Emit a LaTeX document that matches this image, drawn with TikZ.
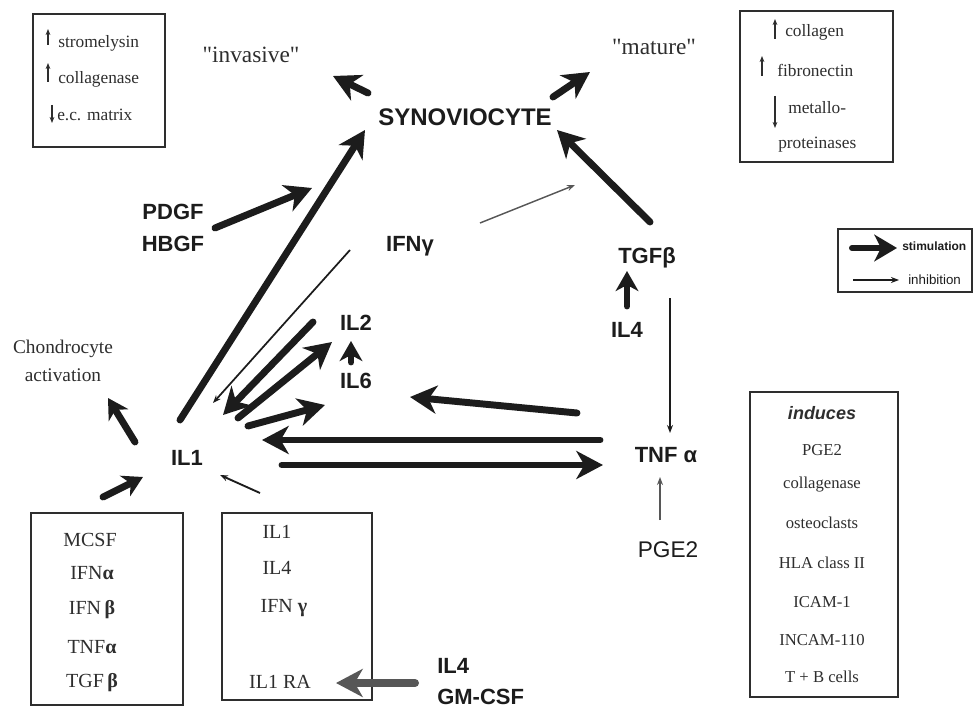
\documentclass[tikz,border=0pt]{standalone}
\usepackage{fontspec}
\setmainfont{Liberation Serif}
\setsansfont{Liberation Sans}
\newfontfamily\rawserif{Liberation Serif}[Ligatures=ResetAll]
\usetikzlibrary{arrows.meta}
\definecolor{ink}{HTML}{1C1C1C}
\definecolor{ink2}{HTML}{2E2E2E}
\definecolor{grayarrow}{HTML}{575757}
\begin{document}
\begin{tikzpicture}[x=0.75pt,y=-0.75pt,
  stim/.style={draw=ink, line width=5.2pt, line cap=round, -{Stealth[length=20pt,width=21pt,inset=6pt]}},
  stims/.style={draw=ink, line width=5.2pt, line cap=round, -{Stealth[length=15pt,width=17pt,inset=4.5pt]}},
  inh/.style={draw=ink, line width=1.1pt, -{Stealth[length=6pt,width=4.5pt]}},
  tiny/.style={draw=ink2, line width=0.9pt, -{Stealth[length=4.5pt,width=3.5pt]}},
  boxs/.style={draw=ink2, line width=0.9pt, inner sep=0pt, outer sep=0pt},
  lab/.style={font=\sffamily\bfseries\fontsize{16.5}{18}\selectfont, text=ink, inner sep=0pt},
  labr/.style={font=\sffamily\fontsize{17}{19}\selectfont, text=ink, inner sep=0pt},
  syn/.style={font=\sffamily\bfseries\fontsize{18}{20}\selectfont, text=ink, inner sep=0pt},
  big/.style={font=\rawserif\fontsize{17.5}{20}\selectfont, text=ink2, inner sep=0pt},
  chon/.style={font=\rmfamily\fontsize{14.5}{21}\selectfont, text=ink2, inner sep=0pt, align=center},
  tbox/.style={font=\rmfamily\fontsize{13}{15}\selectfont, text=ink2, inner sep=0pt},
  ibox/.style={font=\rmfamily\fontsize{12.5}{15}\selectfont, text=ink2, inner sep=0pt},
  bbox/.style={font=\rmfamily\fontsize{15}{17}\selectfont, text=ink2, inner sep=0pt},
  leg/.style={font=\sffamily\fontsize{10}{12}\selectfont, text=ink, inner sep=0pt}
]
\path[use as bounding box, fill=white] (0,0) rectangle (975,710);

% ---------- boxes ----------
\node[boxs, minimum width=99pt, minimum height=99.75pt] (tlbox) at (99,80.5) {};
\node[boxs, minimum width=114.75pt, minimum height=113.25pt] (trbox) at (816.5,86.5) {};
\node[boxs, minimum width=100.5pt, minimum height=47.25pt] (legbox) at (905,260.5) {};
\node[boxs, minimum width=114pt, minimum height=144pt] (blbox) at (107,609) {};
\node[boxs, minimum width=112.5pt, minimum height=140.25pt] (bmbox) at (297,606.5) {};
\node[boxs, minimum width=111pt, minimum height=228.75pt] (indbox) at (824,544.5) {};

% ---------- top-left box ----------
\node[tbox, anchor=west] (stro) at (58,43) {stromelysin};
\node[tbox, anchor=west] (colla) at (58,79) {collagenase};
\node[tbox, anchor=west] (ecm) at (57,115) {e.c. matrix};
\draw[tiny] (48,45) -- (48,29);
\draw[tiny] (48,82) -- (48,63);
\draw[tiny] (52,105) -- (52,123);

% ---------- top-right box ----------
\node[tbox, anchor=west] (coll) at (785,32) {collagen};
\node[tbox, anchor=west] (fibro) at (777,70) {fibronectin};
\node[tbox, anchor=west] (metal) at (788,108) {metallo-};
\node[tbox, anchor=west] (prot) at (778,145) {proteinases};
\draw[tiny] (775,39) -- (775,19);
\draw[tiny] (762,76) -- (762,56);
\draw[tiny] (775,96) -- (775,128);

% ---------- titles ----------
\node[big] (invasive) at (251,55) {"invasive"};
\node[big] (mature) at (654,47) {"mature"};
\node[syn] (syno) at (465,117) {SYNOVIOCYTE};

% ---------- labels ----------
\node[lab] (pdgf) at (173,212) {PDGF};
\node[lab] (hbgf) at (173,244) {HBGF};
\node[lab] (ifng) at (410,246) {IFNγ};
\node[lab] (tgfb) at (647,258) {TGFβ};
\node[lab] (il4a) at (627,330) {IL4};
\node[lab] (il2) at (356,323) {IL2};
\node[lab] (il6) at (356,381) {IL6};
\node[lab] (il1) at (187,458) {IL1};
\node[lab] (tnf) at (666,455) {TNF α};
\node[labr] (pge2) at (668,550) {PGE2};
\node[chon] (chon) at (63,361) {Chondrocyte\\activation};
\node[lab, anchor=west] (il4b) at (437,666) {IL4};
\node[lab, anchor=west] (gmcsf) at (437,697) {GM-CSF};

% ---------- legend ----------
\node[leg, anchor=west, font=\sffamily\bfseries\fontsize{9}{11}\selectfont] (stimtxt) at (902,246) {stimulation};
\node[leg, anchor=west] (inhtxt) at (908,280) {inhibition};
\coordinate (ls1) at (852,248); \coordinate (ls2) at (897,248);
\coordinate (li1) at (853,280); \coordinate (li2) at (899,280);
\draw[draw=ink, line width=4.5pt, line cap=round, -{Stealth[length=17pt,width=20pt,inset=5pt]}] (ls1) -- (ls2);
\draw[inh, line width=1.3pt] (li1) -- (li2);

% ---------- bottom-left box ----------
\node[bbox] (mcsf) at (90,540) {MCSF};
\node[bbox] (ifna) at (92,573) {IFN{\bfseries α}};
\node[bbox] (ifnb) at (92,610) {IFN\,{\bfseries β}};
\node[bbox] (tnfa2) at (92,647) {TNF{\bfseries α}};
\node[bbox] (tgfb2) at (92,683) {TGF\,{\bfseries β}};

% ---------- bottom-middle box ----------
\node[bbox] (bil1) at (277,532) {IL1};
\node[bbox] (bil4) at (277,568) {IL4};
\node[bbox] (bifng) at (284,608) {IFN {\bfseries γ}};
\node[bbox] (bil1ra) at (280,682) {IL1 RA};

% ---------- induces box ----------
\node[ibox, font=\sffamily\bfseries\itshape\fontsize{13.5}{15}\selectfont] (induces) at (822,413) {induces};
\node[ibox] (i1) at (822,450) {PGE2};
\node[ibox] (i2) at (822,485) {collagenase};
\node[ibox] (i3) at (822,523) {osteoclasts};
\node[ibox] (i4) at (822,563) {HLA class II};
\node[ibox] (i5) at (822,602) {ICAM-1};
\node[ibox] (i6) at (822,640) {INCAM-110};
\node[ibox] (i7) at (822,677) {T + B cells};

% ---------- arrow end points ----------
\coordinate (synA) at (368,93);   \coordinate (invT) at (333,76);
\coordinate (synB) at (553,97);   \coordinate (matT) at (590,72);
\coordinate (tgfS) at (650,222);  \coordinate (synC) at (557,130);
\coordinate (il1S) at (180,420);  \coordinate (synD) at (365,130);
\coordinate (pdS) at (215,228);   \coordinate (pdT) at (312,188);
\coordinate (ifS) at (480,223);   \coordinate (ifT) at (575,185);
\coordinate (ifL) at (350,250);   \coordinate (il1I) at (213,403);
\coordinate (il4S) at (627,306);  \coordinate (tgfT) at (627,271);
\coordinate (tgfD) at (670,298);  \coordinate (tnfT) at (670,433);
\coordinate (il6S) at (351,362);  \coordinate (il2T) at (351,341);
\coordinate (il2S) at (313,322);  \coordinate (il1A) at (223,415);
\coordinate (il1B) at (238,418);  \coordinate (il2U) at (332,342);
\coordinate (il1C) at (248,426);  \coordinate (il6T) at (325,405);
\coordinate (tnfS6) at (577,413); \coordinate (il6U) at (410,397);
\coordinate (tnfS1) at (600,440); \coordinate (il1D) at (262,440);
\coordinate (il1E) at (282,465);  \coordinate (tnfU) at (603,465);
\coordinate (il1F) at (135,442);  \coordinate (chT) at (108,398);
\coordinate (pgS) at (660,520);   \coordinate (tnfV) at (660,477);
\coordinate (blS) at (103,497);   \coordinate (il1G) at (143,477);
\coordinate (bmS) at (260,493);   \coordinate (il1H) at (220,475);
\coordinate (gmS) at (415,683);   \coordinate (raT) at (336,683);

% ---------- arrows ----------
\draw[stim] (synA) -- (invT);
\draw[stim] (synB) -- (matT);
\draw[stim] (tgfS) -- (synC);
\draw[stim] (il1S) -- (synD);
\draw[stim] (pdS) -- (pdT);
\draw[inh, draw=grayarrow] (ifS) -- (ifT);
\draw[inh, line width=1.3pt] (ifL) -- (il1I);
\draw[stims] (il4S) -- (tgfT);
\draw[inh] (tgfD) -- (tnfT);
\draw[stims] (il6S) -- (il2T);
\draw[stim] (il2S) -- (il1A);
\draw[stim] (il1B) -- (il2U);
\draw[stim] (il1C) -- (il6T);
\draw[stim] (tnfS6) -- (il6U);
\draw[stim] (tnfS1) -- (il1D);
\draw[stim] (il1E) -- (tnfU);
\draw[stims] (il1F) -- (chT);
\draw[inh, draw=grayarrow] (pgS) -- (tnfV);
\draw[stims] (blS) -- (il1G);
\draw[inh, line width=1.4pt] (bmS) -- (il1H);
\draw[stim, draw=grayarrow, line width=6pt] (gmS) -- (raT);
\end{tikzpicture}
\end{document}
